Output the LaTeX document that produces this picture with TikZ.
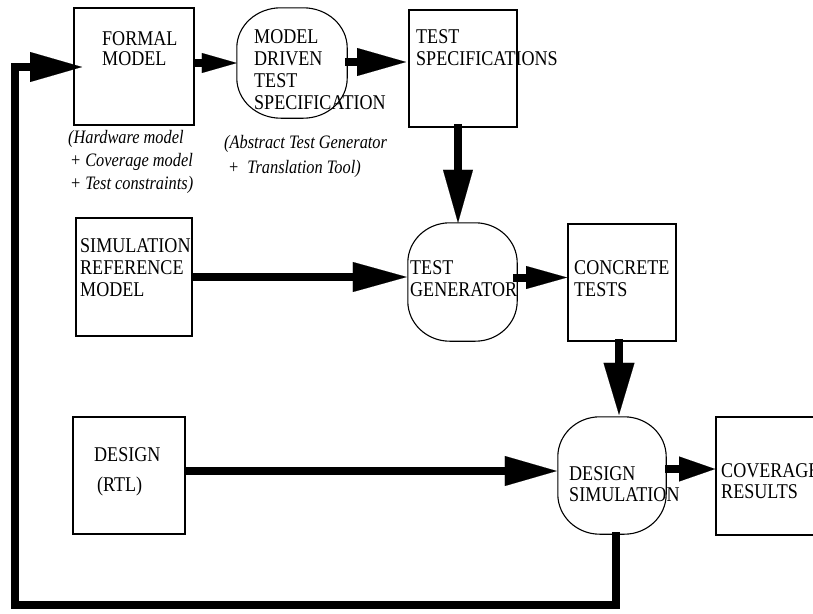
\documentclass[tikz,border=0pt]{standalone}
\usepackage{fontspec}
\setmainfont{Liberation Serif}[FakeStretch=0.86]
\usetikzlibrary{arrows.meta,calc}
\newcommand\ovaldraw[3]{%
  \draw[rline] ($(#1.north west)+(#2,0)$) -- ($(#1.north east)+(-#2,0)$)
    arc[start angle=90,end angle=0,x radius=#2pt,y radius=#3pt]
    -- ($(#1.south east)+(0,-#3)$)
    arc[start angle=0,end angle=-90,x radius=#2pt,y radius=#3pt]
    -- ($(#1.south west)+(#2,0)$)
    arc[start angle=-90,end angle=-180,x radius=#2pt,y radius=#3pt]
    -- ($(#1.north west)+(0,#3)$)
    arc[start angle=180,end angle=90,x radius=#2pt,y radius=#3pt] -- cycle;}
\begin{document}
\begin{tikzpicture}[x=1pt,y=-1pt,
  box/.style={draw, line width=1.8pt, inner sep=0pt},
  rbox/.style={inner sep=0pt},
  rline/.style={line width=1.1pt},
  lbl/.style={anchor=base west, inner sep=0pt, font=\fontsize{21}{21}\selectfont},
  ital/.style={anchor=base west, inner sep=0pt, font=\fontsize{19}{19}\selectfont\itshape},
  flow/.style 2 args={line width=8pt, line join=miter, line cap=butt,
    -{Triangle[length=#1,width=#2,line width=0.1pt]}}]
\useasboundingbox (0,0) rectangle (813,613);
\clip (0,0) rectangle (813,613);
% boxes
\node[box, minimum width=120pt, minimum height=117pt] (fm) at (134,66.5) {};
\node[rbox, minimum width=110pt, minimum height=110pt] (md) at (292,63) {};
\node[box, minimum width=108pt, minimum height=117pt] (ts) at (463,68.5) {};
\node[box, minimum width=116pt, minimum height=118pt] (sr) at (134,277) {};
\node[rbox, minimum width=109pt, minimum height=118pt] (tg) at (462.5,282) {};
\node[box, minimum width=108pt, minimum height=117pt] (ct) at (622,282.5) {};
\node[box, minimum width=112pt, minimum height=117pt] (dr) at (129,475.5) {};
\node[rbox, minimum width=108pt, minimum height=117pt] (ds) at (612,475.5) {};
\node[box, minimum width=120pt, minimum height=118pt] (cr) at (776,476) {};
\ovaldraw{md}{44}{40}
\ovaldraw{tg}{42}{40}
\ovaldraw{ds}{42}{40}
% texts
\node[lbl] (fm1) at (102,45) {FORMAL};
\node[lbl] (fm2) at (102,65) {MODEL};
\node[lbl] (md1) at (254,43) {MODEL};
\node[lbl] (md2) at (254,65) {DRIVEN};
\node[lbl] (md3) at (254,87) {TEST};
\node[lbl] (md4) at (254,109) {SPECIFICATION};
\node[lbl] (ts1) at (416,43) {TEST};
\node[lbl] (ts2) at (416,65) {SPECIFICATIONS};
\node[lbl] (sr1) at (80,252) {SIMULATION};
\node[lbl] (sr2) at (80,274) {REFERENCE};
\node[lbl] (sr3) at (80,296) {MODEL};
\node[lbl] (tg1) at (410,274) {TEST};
\node[lbl] (tg2) at (410,296) {GENERATOR};
\node[lbl] (ct1) at (574,274) {CONCRETE};
\node[lbl] (ct2) at (574,296) {TESTS};
\node[lbl] (dr1) at (94,461) {DESIGN};
\node[lbl] (dr2) at (97,491) {(RTL)};
\node[lbl] (ds1) at (569,480) {DESIGN};
\node[lbl] (ds2) at (569,501) {SIMULATION};
\node[lbl] (cr1) at (721,477) {COVERAGE};
\node[lbl] (cr2) at (721,498) {RESULTS};
\node[ital] (n1) at (68,143) {(Hardware model};
\node[ital] (n2) at (70,166) {+ Coverage model};
\node[ital] (n3) at (70,189) {+ Test constraints)};
\node[ital] (n4) at (224,148) {(Abstract Test Generator};
\node[ital] (n5) at (228,173) {+\ \ Translation Tool)};
% connectors
\draw[flow={35pt}{20pt}] ($(fm.east |- md.west)+(-1,0)$) -- (md.west);
\draw[flow={49pt}{28pt}] ($(md.east)+(-2,-1)$) -- ($(md.east -| ts.west)+(-2,-1)$);
\draw[flow={53pt}{30pt}] ($(ts.south)+(-5,-4)$) -- ($(tg.north)+(-4.5,0)$);
\draw[flow={54pt}{30pt}] (sr.east) -- ($(sr.east -| tg.west)+(-1,0)$);
\draw[flow={41pt}{23pt}] ($(tg.east)+(-4,-4.5)$) -- ($(ct.west)+(0,-5)$);
\draw[flow={52pt}{31pt}] ($(ct.south)+(-3,-3)$) -- ($(ct.south |- ds.north)+(-3,-2)$);
\draw[flow={52pt}{30pt}] ($(dr.east)+(0,-4.5)$) -- ($(ds.west)+(-1,-4.5)$);
\draw[flow={36pt}{25pt}] ($(ds.east)+(-1,-6.5)$) -- ($(cr.west)+(0,-7)$);
\coordinate (fbl) at (15,605);
\draw[flow={52pt}{30pt}] ($(ds.south)+(4,-2)$) |- (fbl) |- ($(fm.west)+(9,0.5)$);
\end{tikzpicture}
\end{document}
